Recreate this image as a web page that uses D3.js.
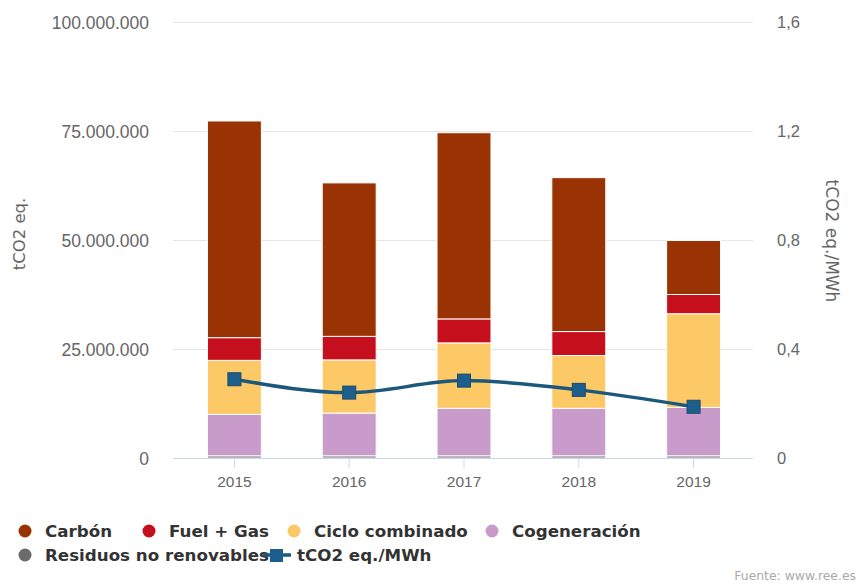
<!DOCTYPE html>
<html>
<head>
<meta charset="utf-8">
<script src="https://cdn.jsdelivr.net/npm/d3@7"></script>
<style>
  body { margin: 0; background: #fff; }
  svg { font-family: "DejaVu Sans", Verdana, sans-serif; }
</style>
</head>
<body>
<svg id="chart" width="862" height="585"></svg>
<script>
// data (tCO2 eq.)
const years = ['2015', '2016', '2017', '2018', '2019']
const residuos = [500000, 500000, 500000, 500000, 500000]
const cogeneracion = [9500000, 9800000, 10900000, 10900000, 11100000]
const cicloCombinado = [12400000, 12200000, 15000000, 12100000, 21500000]
const fuelGas = [5200000, 5400000, 5500000, 5500000, 4400000]
const carbon = [49700000, 35200000, 42700000, 35300000, 12400000]
const intensidad = [0.289, 0.240, 0.284, 0.250, 0.188]   // tCO2 eq./MWh

const leftTicks = [0, 25000000, 50000000, 75000000, 100000000]
const rightTicks = [0, 0.4, 0.8, 1.2, 1.6]

const series = [
    {key: 'residuos', name: 'Residuos no renovables', values: residuos, color: '#6b6b6b'},
    {key: 'cogeneracion', name: 'Cogeneración', values: cogeneracion, color: '#c99bca'},
    {key: 'ciclo', name: 'Ciclo combinado', values: cicloCombinado, color: '#fdc866'},
    {key: 'fuel', name: 'Fuel + Gas', values: fuelGas, color: '#c50f1c'},
    {key: 'carbon', name: 'Carbón', values: carbon, color: '#9a3304'},
]
const lineColor = '#1b587c'

const rows = years.map((y, i) => {
    let r = {year: y}
    series.forEach(s => r[s.key] = s.values[i])
    return r
})

const svg = d3.select('#chart')
const plot = {left: 177, right: 751, top: 22, bottom: 458}

const fmtLocale = d3.formatLocale({decimal: ',', thousands: '.', grouping: [3], currency: ['', '€']})

const xScale = d3.scaleBand().domain(years).range([plot.left, plot.right])
const yScale = d3.scaleLinear().domain([0, 100000000]).range([plot.bottom, plot.top])
const y2Scale = d3.scaleLinear().domain([0, 1.6]).range([plot.bottom, plot.top])

// gridlines
svg.append('g')
    .selectAll('line')
    .data(leftTicks)
    .join('line')
        .attr('x1', 173)
        .attr('x2', 753)
        .attr('y1', d => Math.round(yScale(d)) + 0.5)
        .attr('y2', d => Math.round(yScale(d)) + 0.5)
        .attr('stroke', '#e6e6e6')

// left axis
const yAxisG = svg.append('g')
    .attr('transform', `translate(152,0)`)
    .call(d3.axisLeft(yScale).tickValues(leftTicks).tickSize(0).tickFormat(fmtLocale.format(',.0f')))
yAxisG.select('.domain').remove()
yAxisG.selectAll('text')
    .attr('fill', '#666')
    .attr('font-size', '17.5px')
    .attr('dy', '0.35em')

// right axis
const y2AxisG = svg.append('g')
    .attr('transform', `translate(777,0)`)
    .call(d3.axisRight(y2Scale).tickValues(rightTicks).tickSize(0)
        .tickFormat(d => d === 0 ? '0' : fmtLocale.format('.1f')(d)))
y2AxisG.select('.domain').remove()
y2AxisG.selectAll('text')
    .attr('fill', '#666')
    .attr('font-size', '16.5px')
    .attr('dy', '0.35em')
    .attr('x', 0)

// axis titles
svg.append('text')
    .attr('transform', 'translate(25,234) rotate(-90)')
    .attr('text-anchor', 'middle')
    .attr('fill', '#666')
    .attr('font-size', '16.5px')
    .text('tCO2 eq.')

svg.append('text')
    .attr('transform', 'translate(826,241) rotate(90)')
    .attr('text-anchor', 'middle')
    .attr('fill', '#666')
    .attr('font-size', '17px')
    .text('tCO2 eq./MWh')

// stacked bars
const stack = d3.stack().keys(series.map(s => s.key))
const layers = stack(rows)
const barW = xScale.bandwidth() * 0.47

svg.append('g')
    .selectAll('g')
    .data(layers)
    .join('g')
        .attr('fill', (d, i) => series[i].color)
    .selectAll('rect')
    .data(d => d)
    .join('rect')
        .attr('x', d => xScale(d.data.year) + xScale.bandwidth() / 2 - barW / 2)
        .attr('y', d => yScale(d[1]))
        .attr('width', barW)
        .attr('height', d => yScale(d[0]) - yScale(d[1]))
        .attr('stroke', '#fff')
        .attr('stroke-width', 1)

// x axis
svg.append('line')
    .attr('x1', 173).attr('x2', 753)
    .attr('y1', plot.bottom + 0.5).attr('y2', plot.bottom + 0.5)
    .attr('stroke', '#ccd6eb')

const xAxisG = svg.append('g')
    .attr('transform', `translate(0,${plot.bottom})`)
    .call(d3.axisBottom(xScale).tickSize(10).tickPadding(8))
xAxisG.select('.domain').remove()
xAxisG.selectAll('line').attr('stroke', '#ccd6eb')
xAxisG.selectAll('text')
    .attr('fill', '#666')
    .attr('font-size', '15.5px')

// intensity line
const cx = (d, i) => xScale(years[i]) + xScale.bandwidth() / 2
const line = d3.line()
    .x(cx)
    .y(d => y2Scale(d))
    .curve(d3.curveMonotoneX)

svg.append('path')
    .datum(intensidad)
    .attr('d', line)
    .attr('fill', 'none')
    .attr('stroke', lineColor)
    .attr('stroke-width', 3.5)

svg.append('g')
    .selectAll('rect')
    .data(intensidad)
    .join('rect')
        .attr('x', (d, i) => cx(d, i) - 6.5)
        .attr('y', d => y2Scale(d) - 6.5)
        .attr('width', 13)
        .attr('height', 13)
        .attr('fill', '#1c5f8c')
        .attr('stroke', '#174b6b')
        .attr('stroke-width', 1)

// legend
const legendItems = [
    {name: 'Carbón', color: series[4].color, x: 25, y: 531},
    {name: 'Fuel + Gas', color: series[3].color, x: 149, y: 531},
    {name: 'Ciclo combinado', color: series[2].color, x: 294, y: 531},
    {name: 'Cogeneración', color: series[1].color, x: 492, y: 531},
    {name: 'Residuos no renovables', color: series[0].color, x: 25, y: 555},
]
const legend = svg.append('g')
legend.selectAll('circle')
    .data(legendItems)
    .join('circle')
        .attr('cx', d => d.x)
        .attr('cy', d => d.y)
        .attr('r', 6.5)
        .attr('fill', d => d.color)
legend.selectAll('text')
    .data(legendItems)
    .join('text')
        .attr('x', d => d.x + 20)
        .attr('y', d => d.y)
        .attr('dy', '0.35em')
        .attr('fill', '#333')
        .attr('font-size', '16.7px')
        .attr('font-weight', 'bold')
        .text(d => d.name)

legend.append('line')
    .attr('x1', 263).attr('x2', 291)
    .attr('y1', 555).attr('y2', 555)
    .attr('stroke', lineColor)
    .attr('stroke-width', 3.5)
legend.append('rect')
    .attr('x', 270).attr('y', 549)
    .attr('width', 13).attr('height', 13)
    .attr('fill', '#1c5f8c')
legend.append('text')
    .attr('x', 297).attr('y', 555)
    .attr('dy', '0.35em')
    .attr('fill', '#333')
    .attr('font-size', '16.7px')
    .attr('font-weight', 'bold')
    .text('tCO2 eq./MWh')

// credits
svg.append('text')
    .attr('x', 856).attr('y', 580)
    .attr('text-anchor', 'end')
    .attr('fill', '#aaa')
    .attr('font-size', '12.4px')
    .text('Fuente: www.ree.es')
</script>
</body>
</html>
